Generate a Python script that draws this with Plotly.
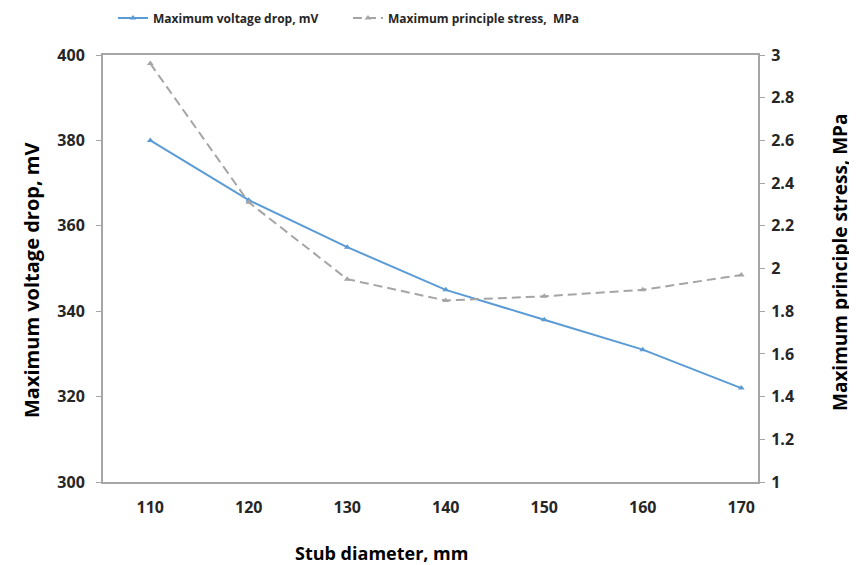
import plotly.graph_objects as go

diameters = [110, 120, 130, 140, 150, 160, 170]
voltage_drop = [380, 366, 355, 345, 338, 331, 322]
principle_stress = [2.96, 2.31, 1.95, 1.85, 1.87, 1.90, 1.97]

left_ticks = [300, 320, 340, 360, 380, 400]
right_ticks = [1, 1.2, 1.4, 1.6, 1.8, 2, 2.2, 2.4, 2.6, 2.8, 3]

FONT = "Open Sans"
AX = "#a6a6a6"
TXT = "#262626"

# page body has an 8px margin; figure sized to fit the window
OFF = 8
W, H = 857 - OFF, 565 - OFF
# plot area in window pixels
L, R, T, B = 103, 758, 55, 482
PW, PH = R - L, B - T

def px(x):
    return (x - L) / PW

def py(y):
    return (B - y) / PH

def cx(x):
    return (x - OFF) / W

def cy(y):
    return 1 - (y - OFF) / H

fig = go.Figure()
fig.add_trace(go.Scatter(
    x=diameters, y=voltage_drop, name="Maximum voltage drop, mV",
    mode="lines+markers", legend="legend",
    line=dict(color="#5b9bd5", width=2),
    marker=dict(symbol="triangle-up", size=6, color="#5b9bd5"),
))
fig.add_trace(go.Scatter(
    x=diameters, y=principle_stress, name="Maximum principle stress,  MPa",
    mode="lines+markers", yaxis="y2", legend="legend2",
    line=dict(color="#a5a5a5", width=2, dash="9px,5px"),
    marker=dict(symbol="triangle-up", size=6, color="#a5a5a5"),
))

tickfont = dict(family=FONT, size=16, color=TXT, weight="bold")
titlefont = dict(family=FONT, size=20, color="#000000", weight="bold")
legfont = dict(family=FONT, size=12, color=TXT, weight="bold")

fig.update_layout(
    width=W, height=H,
    margin=dict(l=L - OFF, r=W - (R - OFF), t=T - OFF, b=H - (B - OFF), autoexpand=False),
    paper_bgcolor="white", plot_bgcolor="white",
    font=dict(family=FONT, size=14, color=TXT),
    showlegend=True,
    legend=dict(xref="container", yref="container",
                x=cx(113), xanchor="left", y=cy(18), yanchor="middle",
                font=legfont, bgcolor="rgba(0,0,0,0)"),
    legend2=dict(xref="container", yref="container",
                 x=cx(348), xanchor="left", y=cy(18), yanchor="middle",
                 font=legfont, bgcolor="rgba(0,0,0,0)"),
    xaxis=dict(range=[105.2, 171.7], tickvals=diameters,
               showgrid=False, zeroline=False,
               showline=True, linecolor=AX, linewidth=2, mirror=True,
               ticks="", ticklabelstandoff=10,
               tickfont=tickfont),
    yaxis=dict(range=[300, 400], tickvals=left_ticks,
               showgrid=False, zeroline=False,
               showline=True, linecolor=AX, linewidth=2,
               ticks="outside", ticklen=5, tickcolor=AX, tickwidth=1,
               ticklabelstandoff=8,
               tickfont=tickfont),
    yaxis2=dict(range=[1, 3], tickvals=right_ticks, overlaying="y", side="right",
                showgrid=False, zeroline=False,
                showline=True, linecolor=AX, linewidth=2,
                ticks="outside", ticklen=5, tickcolor=AX, tickwidth=1,
                ticklabelstandoff=3,
                tickfont=tickfont),
    annotations=[
        dict(text="Stub diameter, mm", xref="paper", yref="paper",
             x=px(381), y=py(553), xanchor="center", yanchor="middle",
             showarrow=False, font=dict(family=FONT, size=18, color="#000000", weight="bold")),
        dict(text="Maximum voltage drop, mV", xref="paper", yref="paper",
             x=px(31), y=py(281), xanchor="center", yanchor="middle", textangle=-90,
             showarrow=False, font=titlefont),
        dict(text="Maximum principle stress, MPa", xref="paper", yref="paper",
             x=px(840), y=py(262), xanchor="center", yanchor="middle", textangle=-90,
             showarrow=False, font=dict(family=FONT, size=19, color="#000000", weight="bold")),
    ],
)

fig.write_html("out.html")
